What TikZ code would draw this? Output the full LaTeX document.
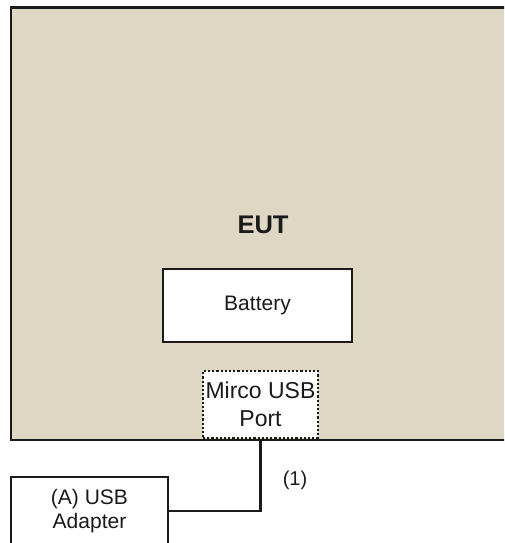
\documentclass[tikz,border=0pt]{standalone}
\usepackage{fontspec}
\setmainfont{Liberation Sans}
\definecolor{eutfill}{HTML}{DDD7C3}
\definecolor{ink}{HTML}{1A1A1A}
\tikzset{
  boxstyle/.style={draw=ink, line width=2.2pt, fill=white, inner sep=0pt, align=center, text=ink},
  porttext/.style={font=\fontsize{23}{28}\selectfont},
  normtext/.style={font=\fontsize{21}{24}\selectfont, text=ink, align=center},
  wire/.style={draw=ink, line width=2.2pt}
}
\begin{document}
\begin{tikzpicture}[x=1pt,y=-1pt]
\useasboundingbox (0,0) rectangle (504,543);
\clip (0,0) rectangle (504,543);
\node[draw=ink, line width=2.2pt, fill=eutfill, minimum width=519pt, minimum height=432.5pt, inner sep=0pt] (eut) at (270.5,223.75) {};
\node[font=\bfseries\fontsize{25.5}{28}\selectfont, text=ink] (eutlabel) at (263,225) {EUT};
\node[boxstyle, minimum width=189pt, minimum height=73pt, normtext] (battery) at (257.5,305.5) {Battery};
\node[boxstyle, draw=ink, dotted, line width=1.6pt, minimum width=115pt, minimum height=67pt, porttext] (port) at (260.5,404.5) {Mirco USB\\Port};
\node[boxstyle, minimum width=157pt, minimum height=68pt, normtext] (adapter) at (89.5,511) {(A) USB\\Adapter};
\draw[wire] (port.south) -- (port.south |- adapter.east) -- (adapter.east);
\node[normtext, font=\fontsize{20}{22}\selectfont] (l1) at (295,480) {(1)};
\end{tikzpicture}
\end{document}
